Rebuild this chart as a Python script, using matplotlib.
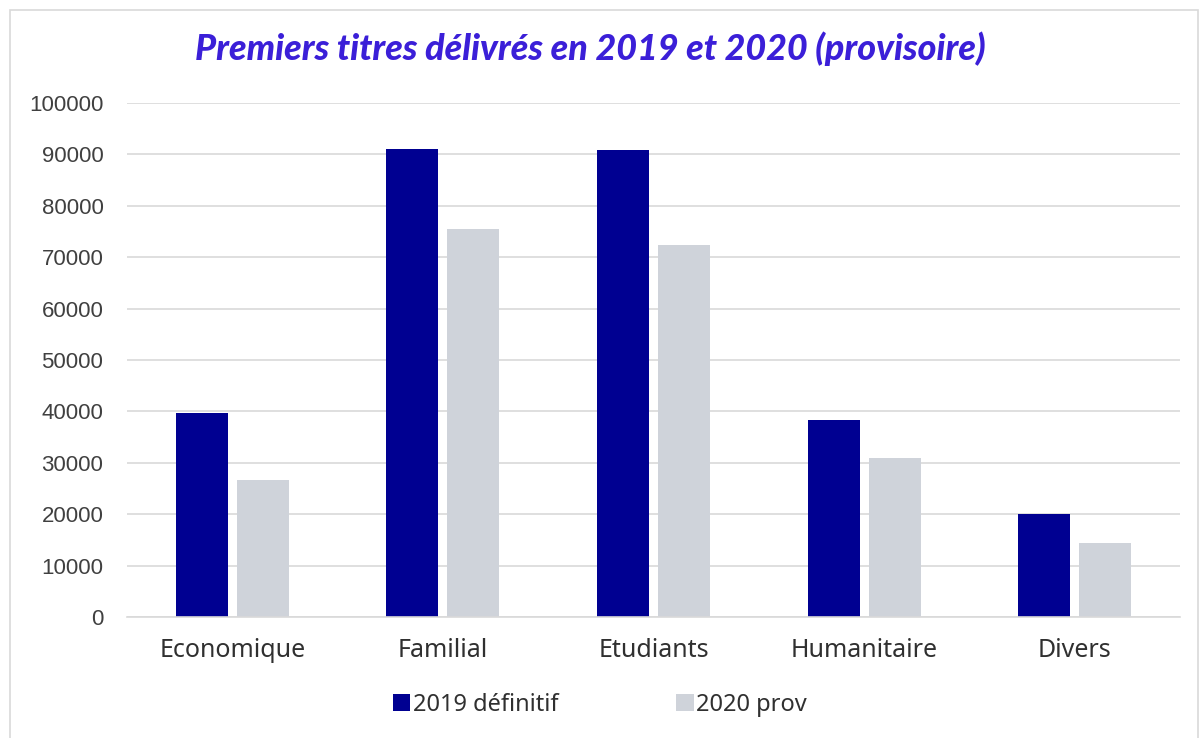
import matplotlib
matplotlib.use("Agg")
import matplotlib.pyplot as plt
import numpy as np
from matplotlib.patches import Rectangle

categories = ["Economique", "Familial", "Etudiants", "Humanitaire", "Divers"]
series_names = ["2019 définitif", "2020 prov"]
values_2019 = [39700, 91000, 90900, 38300, 20000]
values_2020 = [26600, 75500, 72400, 30900, 14400]
yticks = [0, 10000, 20000, 30000, 40000, 50000, 60000, 70000, 80000, 90000, 100000]
title = "Premiers titres délivrés en 2019 et 2020 (provisoire)"

c2019 = "#000091"
c2020 = "#cfd3da"

fig = plt.figure(figsize=(12, 7.38), dpi=100)
fig.patches.append(Rectangle((10/1200, -0.01), 1188/1200, 1 - 10/738 + 0.01,
                             transform=fig.transFigure, fill=False,
                             edgecolor="#d9d9d9", linewidth=1.2))
ax = fig.add_axes([127/1200, 121/738, 1053/1200, 514/738])

x = np.arange(len(categories))
w = 0.247
off = 0.145
ax.bar(x - off, values_2019, width=w, color=c2019, label=series_names[0], zorder=3)
ax.bar(x + off, values_2020, width=w, color=c2020, label=series_names[1], zorder=3)

ax.set_xlim(-0.5, len(categories) - 0.5)
ax.set_ylim(0, 100000)
ax.set_yticks(yticks)
ax.set_yticklabels([str(v) for v in yticks], fontfamily="Liberation Sans",
                   fontsize=16, color="#404040")
ax.set_xticks(x)
ax.set_xticklabels(categories, fontfamily="Noto Sans", fontsize=18, color="#303030")
ax.tick_params(axis="y", length=0, pad=17)
ax.tick_params(axis="x", length=0, pad=15)
ax.grid(axis="y", color="#d9d9d9", linewidth=1.2, zorder=0)
for s in ["top", "right", "left"]:
    ax.spines[s].set_visible(False)
ax.spines["bottom"].set_color("#d9d9d9")
ax.spines["bottom"].set_linewidth(1.2)
ax.spines["bottom"].set_zorder(4)

fig.text(590/1200, 1 - 49/738, title, ha="center", va="center",
         fontfamily="Lato", fontweight="black", fontstyle="italic",
         fontsize=25.8, color="#3b1fd8")

leg = fig.legend(loc="center", bbox_to_anchor=(600/1200, 1 - 705/738), ncol=2,
                 frameon=False, prop={"family": "Noto Sans", "size": 17},
                 handlelength=0.75, handleheight=0.75, handletextpad=0.1,
                 columnspacing=5.0)
for t in leg.get_texts():
    t.set_color("#303030")

fig.savefig("out.png", dpi=100, facecolor="white")
